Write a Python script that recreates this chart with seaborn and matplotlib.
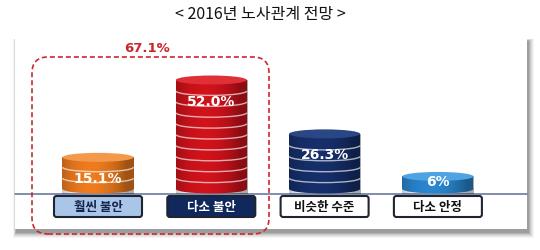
import matplotlib
matplotlib.use("Agg")
import matplotlib.pyplot as plt
import seaborn as sns
import numpy as np
from matplotlib.patches import Ellipse, Arc, FancyBboxPatch, Rectangle

sns.set_style("white")
plt.rcParams['font.family'] = ['Noto Sans CJK KR', 'DejaVu Sans']

# ---- data ----
title = "< 2016년 노사관계 전망 >"
categories = ["훨씬 불안", "다소 불안", "비슷한 수준", "다소 안정"]
values = [15.1, 52.0, 26.3, 6.0]
value_labels = ["15.1%", "52.0%", "26.3%", "6%"]
group_label = f"{values[0] + values[1]:.1f}%"

body_colors = ["#EE7B1E", "#D0121B", "#162F6B", "#2A86CF"]
top_colors = ["#F39A4A", "#DE3036", "#2B4684", "#4FA3E3"]
box_fill = ["#A9C5E8", "#10285C", "#FFFFFF", "#FFFFFF"]
box_text = ["#14244A", "#FFFFFF", "#111111", "#111111"]

W, H = 540, 251
fig = plt.figure(figsize=(W / 100, H / 100), dpi=100)
ax = fig.add_axes([0, 0, 1, 1])
ax.set_facecolor("none")


def px_rect(x0, y0, x1, y1, **kw):
    return Rectangle((x0 / W, 1 - y1 / H), (x1 - x0) / W, (y1 - y0) / H,
                     transform=ax.transAxes, **kw)


# panel with soft shadow
for i, a in enumerate([0.04, 0.05, 0.06, 0.08, 0.10, 0.12]):
    d = 6 - i
    ax.add_patch(px_rect(15 - d * 0.5 + 1, 40 - d * 0.4 + 2, 527 + d + 1, 230 + d + 3,
                         facecolor="black", alpha=a, lw=0, zorder=0))
ax.add_patch(px_rect(15, 40, 527, 230, facecolor="white", lw=0, zorder=0.5))

sns.barplot(x=categories, y=values, hue=categories, palette=body_colors,
            saturation=1, width=0.627, legend=False, ax=ax, zorder=3)

# scales: category spacing 113.3 px, first center at 98 px; 2.096 px per %
xpx, x0px = 113.3, 98
ypx, y0px = 2.096, 190
ax.set_xlim(-x0px / xpx, (W - x0px) / xpx)
ax.set_ylim(-(H - y0px) / ypx, y0px / ypx)
ax.axis("off")

eh = 9 / ypx  # ellipse height in data units
stripe_step = 5.2

bars = [c[0] for c in ax.containers] if len(ax.containers) > 1 else list(ax.containers[0])
for i, p in enumerate(bars):
    cx = p.get_x() + p.get_width() / 2
    w = p.get_width()
    h = p.get_height()
    p.set_edgecolor("none")
    ax.add_patch(Ellipse((cx, 0), w, eh, facecolor=body_colors[i], edgecolor="none", zorder=2.9))
    # horizontal shading (darker edges, highlight left of centre)
    grad = np.linspace(-1, 1, 100)
    shade = np.clip(np.abs(grad + 0.2) ** 2, 0, 1)
    img = np.zeros((2, 100, 4))
    img[..., 3] = shade * 0.33
    im = ax.imshow(img, extent=(cx - w / 2, cx + w / 2, -eh / 2, h), aspect="auto",
                   zorder=3.1, interpolation="bilinear")
    clip = Rectangle((cx - w / 2, -eh / 2), w, h + eh / 2, transform=ax.transData,
                     facecolor="none", edgecolor="none")
    ax.add_patch(clip)
    im.set_clip_path(clip)
    # stripes
    s = stripe_step
    while s < h - 2.5:
        ax.add_patch(Arc((cx, s), w, eh, theta1=180, theta2=360, color="white",
                         lw=1.0, alpha=0.65, zorder=3.3))
        s += stripe_step
    ax.add_patch(Ellipse((cx, h), w, eh, facecolor=top_colors[i], edgecolor="none", zorder=3.5))
    ty = h - 9.8 if h > 10 else h - 2.4
    ax.text(cx, ty, value_labels[i], ha="center", va="center", color="white",
            fontsize=10, fontweight="bold", family="DejaVu Sans", zorder=4)

# baseline
ax.plot([(15 - x0px) / xpx, (527 - x0px) / xpx], [-(195 - y0px) / ypx] * 2,
        color="#5B6E99", lw=1.1, zorder=2)

# category boxes
bw = 88 / xpx
bh = 21 / ypx
byc = -(207.5 - y0px) / ypx
for i, c in enumerate(categories):
    ax.add_patch(FancyBboxPatch((i - bw / 2, byc - bh / 2), bw, bh,
                                boxstyle=f"round,pad=0,rounding_size={2.5 / xpx}",
                                mutation_aspect=xpx / ypx,
                                facecolor=box_fill[i], edgecolor="#1E2430", lw=1.5, zorder=4))
    ax.text(i, byc, c, ha="center", va="center", fontsize=9, fontweight="bold",
            color=box_text[i], zorder=5)

# dashed rounded group box
gx0, gx1 = (32 - x0px) / xpx, (269 - x0px) / xpx
gy1, gy0 = (y0px - 58) / ypx, (y0px - 235) / ypx
ax.add_patch(FancyBboxPatch((gx0, gy0), gx1 - gx0, gy1 - gy0,
                            boxstyle=f"round,pad=0,rounding_size={16 / xpx}",
                            mutation_aspect=xpx / ypx, facecolor="none",
                            edgecolor="#D0262D", lw=1.2, linestyle=(0, (3, 1.8)), zorder=6))
ax.text((147 - x0px) / xpx, (y0px - 49) / ypx, group_label, ha="center", va="center",
        color="#C8262C", fontsize=9.5, fontweight="bold", family="DejaVu Sans", zorder=6)

fig.text(260 / W, 1 - 15 / H, title, ha="center", va="center", fontsize=11.5,
         fontweight="medium", color="#111111")

fig.savefig("out.png", dpi=100)
